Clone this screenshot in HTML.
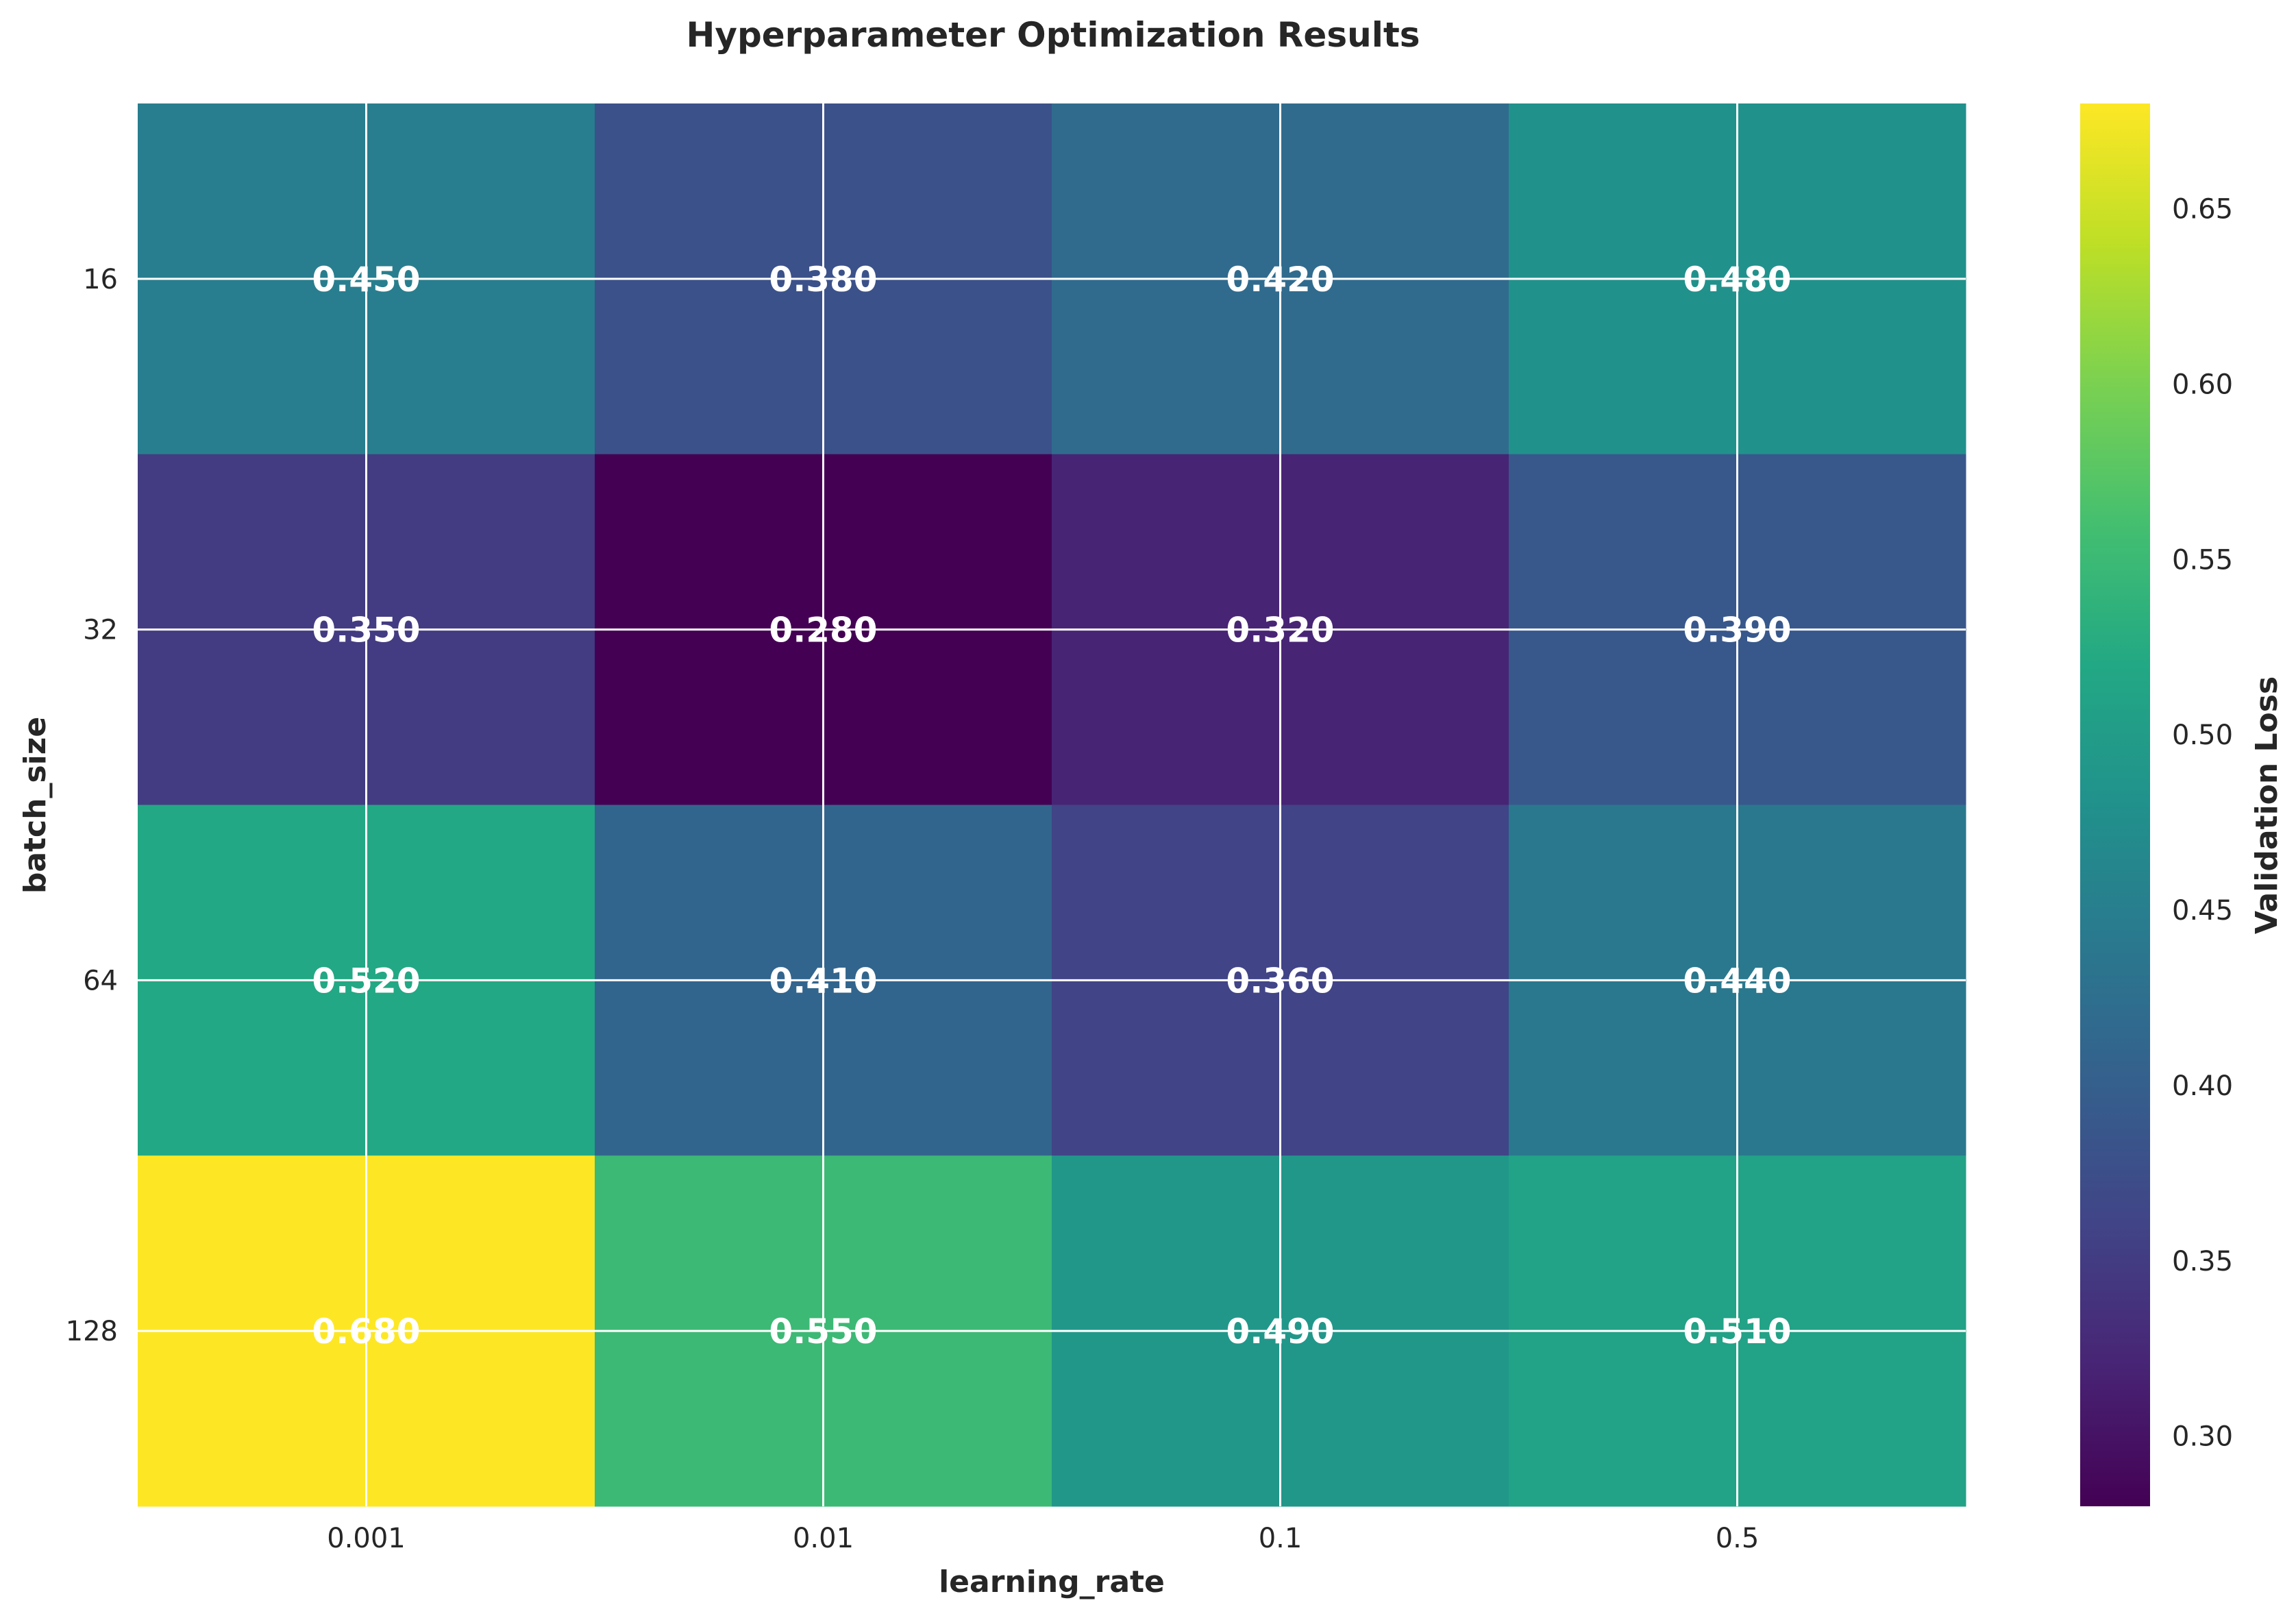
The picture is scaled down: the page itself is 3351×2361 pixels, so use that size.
<!DOCTYPE html>
<html><head><meta charset="utf-8"><style>
html,body{margin:0;padding:0;background:#fff}
svg{display:block}
text{font-family:"DejaVu Sans","Liberation Sans",sans-serif}
</style></head><body>
<svg id="chart" width="3351" height="2361" viewBox="0 0 3351 2361" xmlns="http://www.w3.org/2000/svg">
<defs>
<linearGradient id="vir" x1="0" y1="1" x2="0" y2="0">
<stop offset="0" stop-color="#440154"/><stop offset="0.1" stop-color="#482475"/><stop offset="0.2" stop-color="#414487"/><stop offset="0.3" stop-color="#355f8d"/><stop offset="0.4" stop-color="#2a788e"/><stop offset="0.5" stop-color="#21918c"/><stop offset="0.6" stop-color="#22a884"/><stop offset="0.7" stop-color="#44bf70"/><stop offset="0.8" stop-color="#7ad151"/><stop offset="0.9" stop-color="#bddf26"/><stop offset="1" stop-color="#fde725"/>
</linearGradient>
</defs>
<text x="1537" y="68" text-anchor="middle" font-size="50" font-weight="bold" fill="#262626">Hyperparameter Optimization Results</text>
<g id="cells"></g>
<g id="grid"></g>
<g id="labels"></g>
<g id="ticks"></g>
<rect x="3036" y="151" width="102" height="2047" fill="url(#vir)"/>
<g id="cbticks"></g>
<text x="1535" y="2323" text-anchor="middle" font-size="44" font-weight="bold" fill="#262626">learning_rate</text>
<text transform="translate(66,1175) rotate(-90)" text-anchor="middle" font-size="44" font-weight="bold" fill="#262626">batch_size</text>
<text transform="translate(3323,1175) rotate(-90)" text-anchor="middle" font-size="44" font-weight="bold" fill="#262626">Validation Loss</text>
</svg>
<script>
const learningRates = ["0.001","0.01","0.1","0.5"];
const batchSizes = ["16","32","64","128"];
const row16 = [0.45,0.38,0.42,0.48];
const row32 = [0.35,0.28,0.32,0.39];
const row64 = [0.52,0.41,0.36,0.44];
const row128 = [0.68,0.55,0.49,0.51];
const colorbarTicks = [0.30,0.35,0.40,0.45,0.50,0.55,0.60,0.65];
const vmin = 0.28, vmax = 0.68;

const NS="http://www.w3.org/2000/svg";
const L=201,R=2869,T=151,B=2198;
const cw=(R-L)/learningRates.length, ch=(B-T)/batchSizes.length;
const xC=i=>L+cw*(i+0.5), yC=j=>T+ch*(j+0.5);
const cbY=v=>B-(v-vmin)/(vmax-vmin)*(B-T);
const stops=["#440154","#482475","#414487","#355f8d","#2a788e","#21918c","#22a884","#44bf70","#7ad151","#bddf26","#fde725"];
function hex(h){return [1,3,5].map(k=>parseInt(h.substr(k,2),16));}
function viridis(t){t=Math.max(0,Math.min(1,t));const p=t*10,i=Math.min(9,Math.floor(p)),f=p-i;const a=hex(stops[i]),b=hex(stops[i+1]);return "rgb("+a.map((c,k)=>Math.round(c+(b[k]-c)*f)).join(",")+")";}
function mk(tag,attrs,parent){const e=document.createElementNS(NS,tag);for(const k in attrs)e.setAttribute(k,attrs[k]);document.getElementById(parent).appendChild(e);return e;}
const rows=[row16,row32,row64,row128];
rows.forEach((row,j)=>row.forEach((v,i)=>{
  const r=mk("rect",{x:L+cw*i,y:T+ch*j,width:cw+0.5,height:ch+0.5,fill:viridis((v-vmin)/(vmax-vmin))},"cells");
  
  
  const t=mk("text",{x:xC(i),y:yC(j)+18,"text-anchor":"middle","font-size":"50","font-weight":"bold",fill:"#fff"},"labels");
  t.textContent=v.toFixed(3);
  
  
}));
learningRates.forEach((lr,i)=>{
  const g=mk("line",{x1:xC(i),x2:xC(i),y1:T,y2:B,stroke:"#fff","stroke-width":"3"},"grid");
  
  
  const t=mk("text",{x:xC(i),y:2258,"text-anchor":"middle","font-size":"40",fill:"#262626"},"ticks");
  t.textContent=lr;
  
  
});
batchSizes.forEach((b,j)=>{
  const g=mk("line",{x1:L,x2:R,y1:yC(j),y2:yC(j),stroke:"#fff","stroke-width":"3"},"grid");
  
  
  const t=mk("text",{x:172,y:yC(j)+14,"text-anchor":"end","font-size":"40",fill:"#262626"},"ticks");
  t.textContent=b;
  
  
});
colorbarTicks.forEach(v=>{
  const t=mk("text",{x:3170,y:cbY(v)+14,"font-size":"40",fill:"#262626"},"cbticks");
  t.textContent=v.toFixed(2);
  
  
});
</script>
</body></html>
